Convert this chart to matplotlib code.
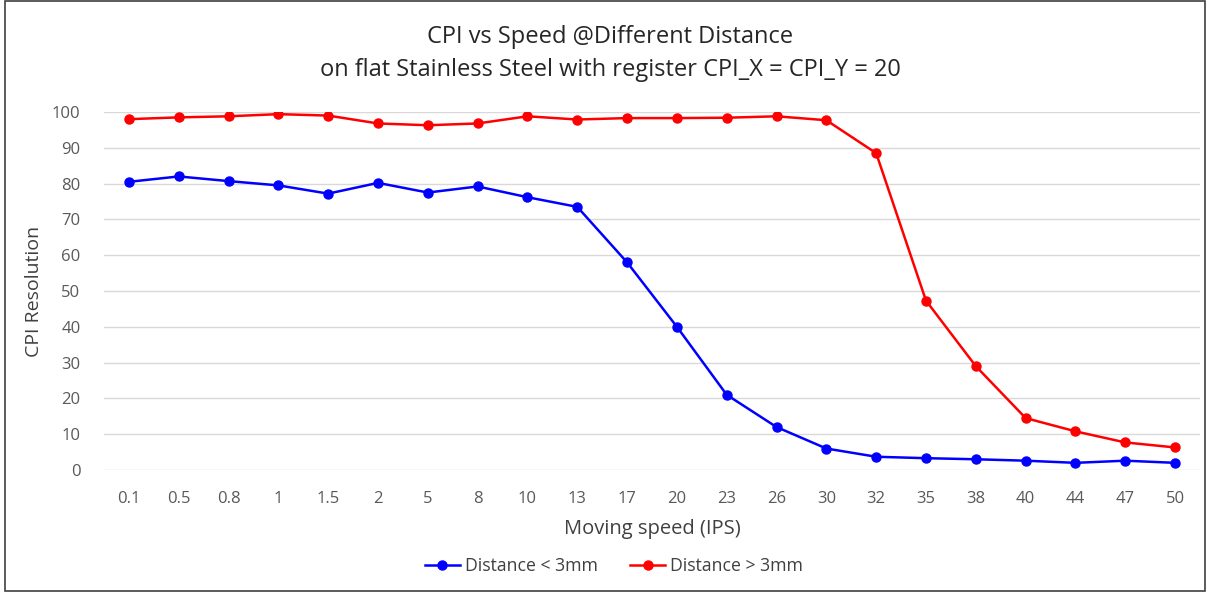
#!/usr/bin/env python
import matplotlib
matplotlib.use("Agg")
import matplotlib.pyplot as plt
import numpy as np

speeds = ["0.1", "0.5", "0.8", "1", "1.5", "2", "5", "8", "10", "13", "17",
          "20", "23", "26", "30", "32", "35", "38", "40", "44", "47", "50"]
near = [80.5, 82, 80.7, 79.5, 77.2, 80.2, 77.5, 79.2, 76.2, 73.5, 58,
        40, 21, 12, 6, 3.7, 3.3, 3, 2.6, 2, 2.6, 2]
far = [98, 98.5, 98.8, 99.4, 99, 96.8, 96.3, 96.8, 98.8, 97.9, 98.3,
       98.3, 98.4, 98.8, 97.7, 88.5, 47.3, 29, 14.5, 10.8, 7.7, 6.3]


def main():
    plt.rcParams['font.family'] = ['Open Sans', 'DejaVu Sans']
    fig = plt.figure(figsize=(12.09, 5.92), dpi=100)
    ax = fig.add_axes([104 / 1209, 1 - 470 / 592, 1096 / 1209, 358 / 592])

    x = np.arange(len(speeds))
    ax.plot(x, near, color="#0000ff", lw=1.8, marker="o", ms=6.5,
            label="Distance < 3mm")
    ax.plot(x, far, color="#ff0000", lw=1.8, marker="o", ms=6.5,
            label="Distance > 3mm")

    ax.set_xlim(-0.5, len(speeds) - 0.5)
    ax.set_ylim(0, 100)
    ax.set_xticks(x)
    ax.set_xticklabels(speeds)
    ax.set_yticks(np.arange(0, 101, 10))
    ax.tick_params(length=0, labelsize=12, colors="#595959")
    ax.tick_params(axis="y", pad=17)
    ax.tick_params(axis="x", pad=15)
    ax.grid(axis="y", color="#d9d9d9", lw=1)
    ax.set_axisbelow(True)
    for s in ax.spines.values():
        s.set_visible(False)
    ax.set_xlabel("Moving speed (IPS)", fontsize=14.5, color="#404040", labelpad=9)
    ax.set_ylabel("CPI Resolution", fontsize=14, color="#404040", labelpad=6)

    fig.text(0.505, 1 - 37 / 592, "CPI vs Speed @Different Distance",
             ha="center", va="center", fontsize=17, color="#262626")
    fig.text(0.505, 1 - 70 / 592, "on flat Stainless Steel with register CPI_X = CPI_Y = 20",
             ha="center", va="center", fontsize=17, color="#262626")

    fig.legend(loc="center", bbox_to_anchor=(614 / 1209, 1 - 566 / 592), ncol=2,
               frameon=False, fontsize=12.7, labelcolor="#404040",
               handlelength=2, columnspacing=1.8, handletextpad=0.3)

    fig.patches.append(plt.Rectangle((5 / 1209, 0.002), 1200 / 1209, 0.996,
                                     transform=fig.transFigure, fill=False,
                                     ec="#404040", lw=1.2))
    fig.savefig("out.png", dpi=100)


if __name__ == "__main__":
    main()
